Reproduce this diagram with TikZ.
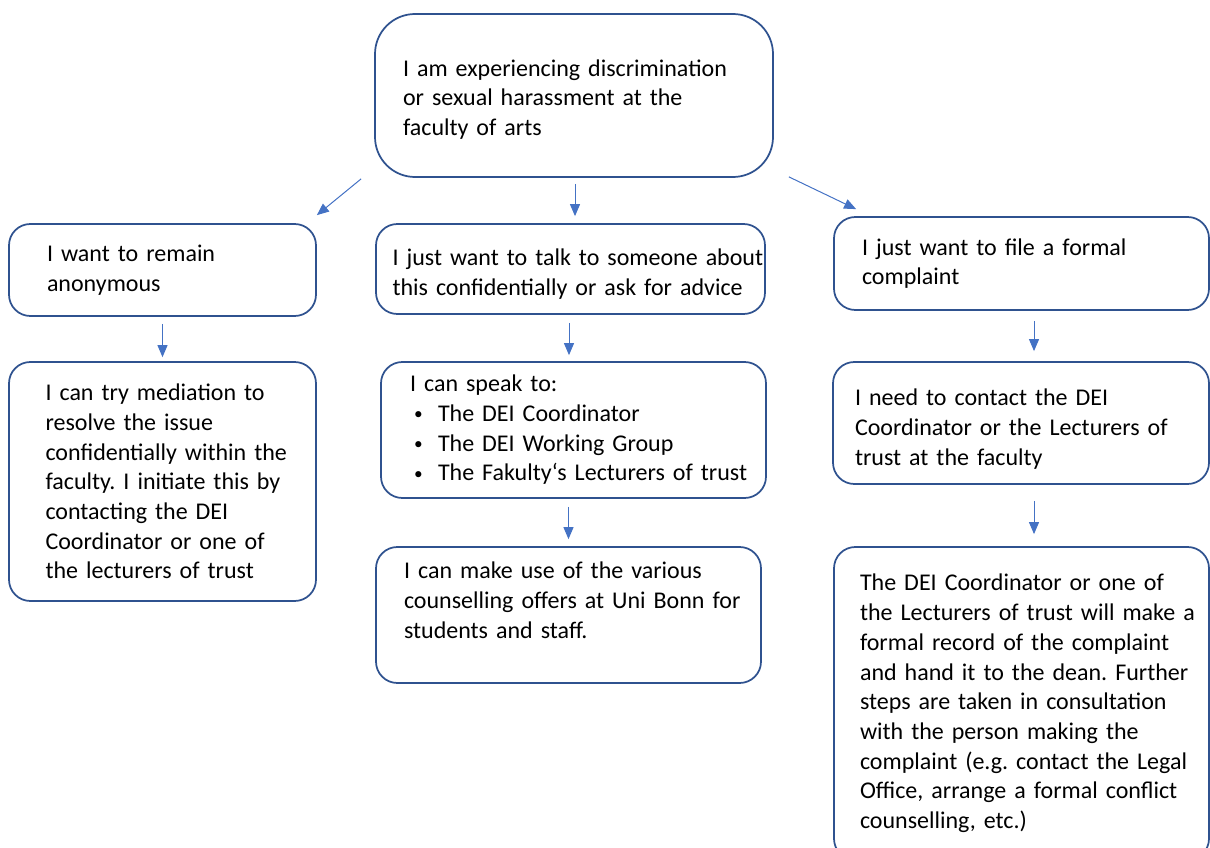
\documentclass[tikz,border=0pt]{standalone}
\usepackage{fontspec}
\setmainfont{Carlito}
\usepackage{xcolor}
\usetikzlibrary{arrows.meta, positioning}
\definecolor{boxline}{HTML}{2F528F}
\definecolor{arrowblue}{HTML}{4472C4}
\frenchspacing
\newcommand{\bul}{\makebox[21pt][l]{\hspace{3pt}\raisebox{1.2pt}{\fontsize{13}{13}\selectfont\textbullet}}}
\newcommand{\lift}[1]{\rule{0pt}{#1}}
\tikzset{
  box/.style={draw=boxline, line width=1.3pt, rounded corners=16pt, align=left, inner sep=0pt, fill=white,
    execute at begin node={\rightskip=-80pt plus 1fil\relax\hyphenpenalty=10000\relax}},
  startbox/.style={box, rounded corners=30pt},
  arrow/.style={-{Triangle[length=9pt, width=7.5pt]}, line width=0.75pt, arrowblue},
  every node/.style={font=\fontsize{18}{22.3}\selectfont}
}
\begin{document}
\begin{tikzpicture}[x=0.75pt, y=-0.75pt]
    \useasboundingbox (0,0) rectangle (1210,848);
    \node[startbox, minimum width=298.5pt, minimum height=122.25pt, text width=256.5pt] (start) at (574,95.5)
      {\lift{18.5pt}I am experiencing discrimination\\or sexual harassment at the\\faculty of arts};

    \node[box, minimum width=230.25pt, minimum height=69pt, text width=173.25pt] (anon) at (162.5,270)
      {I want to remain\\anonymous};
    \node[box, minimum width=291.75pt, minimum height=67.5pt, text width=267pt] (talk) at (570.5,269)
      {\lift{20pt}I just want to talk to someone about\\this confidentially or ask for advice};
    \node[box, minimum width=281.25pt, minimum height=69.75pt, text width=239.25pt] (file) at (1021.5,263.5)
      {I just want to file a formal\\complaint};

    \node[box, minimum width=230.25pt, minimum height=179.25pt, text width=175.5pt] (mediation) at (162.5,481.5)
      {I can try mediation to\\resolve the issue\\confidentially within the\\faculty. I initiate this by\\contacting the DEI\\Coordinator or one of\\the lecturers of trust};
    \node[box, minimum width=288.75pt, minimum height=102pt, text width=245.25pt] (speak) at (573.5,430)
      {I can speak to:\\\bul The DEI Coordinator\\\bul The DEI Working Group\\\bul The Fakulty‘s Lecturers of trust};
    \node[box, minimum width=288.75pt, minimum height=102pt, text width=246.75pt] (counsel) at (568.5,615)
      {I can make use of the various\\counselling offers at Uni Bonn for\\students and staff.\\\mbox{}};
    \node[box, minimum width=282pt, minimum height=91.5pt, text width=249pt] (contact) at (1021,423)
      {\lift{21.5pt}I need to contact the DEI\\Coordinator or the Lecturers of\\trust at the faculty};
    \node[box, minimum width=281.25pt, minimum height=234.75pt, text width=242.25pt] (record) at (1021.5,703.5)
      {The DEI Coordinator or one of\\the Lecturers of trust will make a\\formal record of the complaint\\and hand it to the dean. Further\\steps are taken in consultation\\with the person making the\\complaint (e.g. contact the Legal\\Office, arrange a formal conflict\\counselling, etc.)};

    \draw[arrow] ([shift={(-13,1)}]start.south west) -- ([shift={(0,-8)}]anon.north east);
    \draw[arrow] ([shift={(1,6)}]start.south) -- ([shift={(1,-7)}]start.south |- talk.north);
    \draw[arrow] ([shift={(15,-1)}]start.south east) -- ([shift={(23,-7)}]file.north west);
    \draw[arrow] ([shift={(0,7)}]anon.south) -- ([shift={(0,-4)}]anon.south |- mediation.north);
    \draw[arrow] ([shift={(-1.5,8)}]talk.south) -- ([shift={(-1.5,-6)}]talk.south |- speak.north);
    \draw[arrow] ([shift={(0,8)}]counsel.north |- speak.south) -- ([shift={(0,-7)}]counsel.north);
    \draw[arrow] ([shift={(12.5,10)}]file.south) -- ([shift={(12.5,-10)}]file.south |- contact.north);
    \draw[arrow] ([shift={(13,16)}]contact.south) -- ([shift={(13,-12)}]contact.south |- record.north);
\end{tikzpicture}
\end{document}
